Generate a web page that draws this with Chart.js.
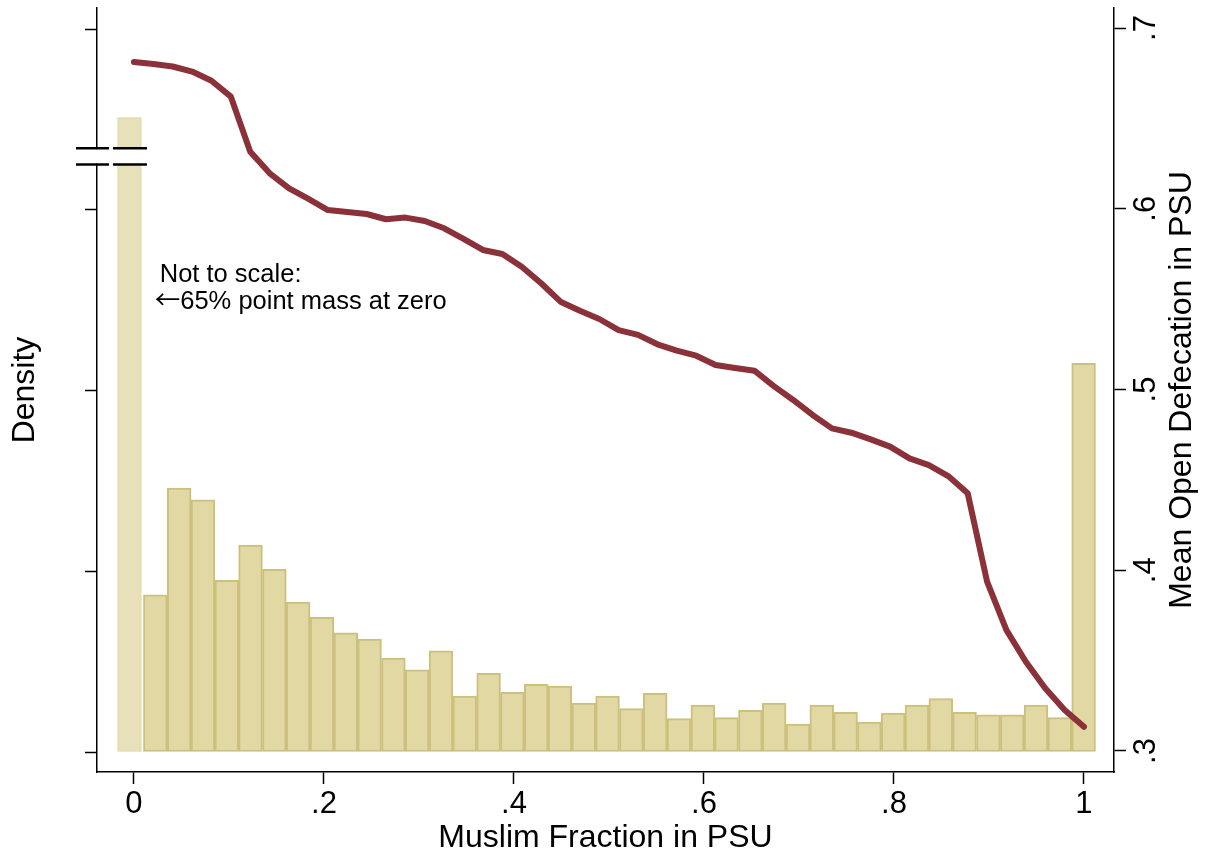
<!DOCTYPE html>
<html><head><meta charset="utf-8">
<script src="https://cdn.jsdelivr.net/npm/chart.js@4.4.1/dist/chart.umd.min.js"></script>
<style>html,body{margin:0;padding:0;background:#fff;}#wrap{width:1205px;height:858px;}</style>
</head><body><div id="wrap"><canvas id="c" width="1205" height="858"></canvas></div>
<script>
// ---- data ----
const xTickValues = [0, 0.2, 0.4, 0.6, 0.8, 1];
const xTickLabels = ['0', '.2', '.4', '.6', '.8', '1'];
const rightTickValues = [0.3, 0.4, 0.5, 0.6, 0.7];
const rightTickLabels = ['.3', '.4', '.5', '.6', '.7'];
const densityTickValues = [0, 2, 4, 6, 8];

const binCenters = [0.0225, 0.0476, 0.0726, 0.0977, 0.1227, 0.1478, 0.1728, 0.1979, 0.2230, 0.2480,
  0.2731, 0.2981, 0.3232, 0.3482, 0.3733, 0.3983, 0.4234, 0.4484, 0.4735, 0.4985,
  0.5236, 0.5487, 0.5737, 0.5988, 0.6238, 0.6489, 0.6739, 0.6990, 0.7240, 0.7491,
  0.7741, 0.7992, 0.8242, 0.8493, 0.8743, 0.8994, 0.9245, 0.9495, 0.9746, 0.9996];
const binDensity = [1.74, 2.92, 2.79, 1.90, 2.29, 2.02, 1.66, 1.49, 1.32, 1.25,
  1.04, 0.91, 1.12, 0.62, 0.87, 0.66, 0.75, 0.73, 0.54, 0.62,
  0.48, 0.65, 0.37, 0.52, 0.38, 0.46, 0.54, 0.31, 0.52, 0.44,
  0.33, 0.43, 0.52, 0.59, 0.44, 0.41, 0.41, 0.52, 0.38, 4.30];
const pointMassX = [-0.0047];
const pointMassDensity = [7.02];

const gridX = [0, 0.0204, 0.0408, 0.0612, 0.0816, 0.1020, 0.1224, 0.1429, 0.1633, 0.1837,
  0.2041, 0.2245, 0.2449, 0.2653, 0.2857, 0.3061, 0.3265, 0.3469, 0.3673, 0.3878,
  0.4082, 0.4286, 0.4490, 0.4694, 0.4898, 0.5102, 0.5306, 0.5510, 0.5714, 0.5918,
  0.6122, 0.6327, 0.6531, 0.6735, 0.6939, 0.7143, 0.7347, 0.7551, 0.7755, 0.7959,
  0.8163, 0.8367, 0.8571, 0.8776, 0.8980, 0.9184, 0.9388, 0.9592, 0.9796, 1];
const meanOpenDef = [0.6812, 0.6801, 0.6787, 0.6759, 0.6708, 0.6620, 0.6316, 0.6196, 0.6113, 0.6054,
  0.5993, 0.5982, 0.5971, 0.5942, 0.5951, 0.5932, 0.5892, 0.5833, 0.5772, 0.5750,
  0.5679, 0.5588, 0.5486, 0.5436, 0.5390, 0.5329, 0.5302, 0.5250, 0.5215, 0.5187,
  0.5136, 0.5119, 0.5104, 0.5019, 0.4942, 0.4859, 0.4785, 0.4761, 0.4724, 0.4684,
  0.4619, 0.4582, 0.4521, 0.4426, 0.3937, 0.3669, 0.3494, 0.3347, 0.3227, 0.3134];

const annotationArrow = '\u2190';
const annotationLines = ['Not to scale:', '65% point mass at zero'];
const annotationAnchor = {x: 0.024, y: 0.5595};      // x data units, right-axis units (first baseline)
const breakLevels = [6.68, 6.50];                     // density units
const breakSegments = [[-0.061, -0.0263], [-0.0221, 0.0137]]; // x data units
const xTitle = 'Muslim Fraction in PSU';
const leftTitle = 'Density';
const rightTitle = 'Mean Open Defecation in PSU';

// ---- styles ----
const FONT = "'Liberation Sans', Arial, Helvetica, sans-serif";
Chart.defaults.font.family = FONT;
Chart.defaults.color = '#000';
const AXIS = '#000';

const overlay = {
  id: 'overlay',
  afterDraw(chart) {
    const {ctx, scales, chartArea} = chart;
    const x = scales.x, yL = scales.yL, yR = scales.yR;
    ctx.save();
    // axis break marks
    const yA = yL.getPixelForValue(breakLevels[0]);
    const yB = yL.getPixelForValue(breakLevels[1]);
    ctx.fillStyle = '#fff';
    breakSegments.forEach(s => {
      const x0 = x.getPixelForValue(s[0]), x1 = x.getPixelForValue(s[1]);
      ctx.fillRect(x0, yA + 1, x1 - x0, yB - yA - 2);
    });
    ctx.strokeStyle = '#000';
    ctx.lineWidth = 2.5;
    breakSegments.forEach(s => {
      const x0 = x.getPixelForValue(s[0]), x1 = x.getPixelForValue(s[1]);
      [yA, yB].forEach(yy => {
        ctx.beginPath(); ctx.moveTo(x0, yy); ctx.lineTo(x1, yy); ctx.stroke();
      });
    });
    // annotation
    ctx.fillStyle = '#000';
    ctx.textAlign = 'left';
    ctx.textBaseline = 'alphabetic';
    const ax = x.getPixelForValue(annotationAnchor.x);
    const ay = yR.getPixelForValue(annotationAnchor.y);
    ctx.font = '25.5px ' + FONT;
    ctx.fillText(annotationLines[0], ax + 3, ay);
    ctx.font = "25.5px 'Noto Sans CJK JP', " + FONT;
    ctx.fillText(annotationArrow, ax - 2, ay + 27.5);
    const aw = ctx.measureText(annotationArrow).width;
    ctx.font = '25.5px ' + FONT;
    ctx.fillText(annotationLines[1], ax - 2 + aw, ay + 27.5);
    // right axis title (reads bottom to top)
    ctx.font = '32px ' + FONT;
    ctx.textAlign = 'center';
    ctx.textBaseline = 'middle';
    ctx.translate(yR.left + 68, (chartArea.top + chartArea.bottom) / 2);
    ctx.rotate(-Math.PI / 2);
    ctx.fillText(rightTitle, 0, 0);
    ctx.restore();
  }
};

function noPad(s) { s.paddingTop = 0; s.paddingBottom = 0; s.paddingLeft = 0; s.paddingRight = 0; }

new Chart(document.getElementById('c'), {
  type: 'bar',
  data: {
    datasets: [
      {
        type: 'line', order: 0, xAxisID: 'x', yAxisID: 'yR',
        data: gridX.map((v, i) => ({x: v, y: meanOpenDef[i]})),
        borderColor: '#8b3139', borderWidth: 6, pointRadius: 0, tension: 0,
        borderCapStyle: 'round', borderJoinStyle: 'round', fill: false
      },
      {
        type: 'bar', order: 1, xAxisID: 'x', yAxisID: 'yL', grouped: false,
        data: binCenters.map((v, i) => ({x: v, y: binDensity[i]})),
        backgroundColor: '#e2d8a4', borderColor: '#cbc17d', borderWidth: 2,
        barPercentage: 1, categoryPercentage: 1, borderSkipped: false
      },
      {
        type: 'bar', order: 2, xAxisID: 'x', yAxisID: 'yL', grouped: false,
        data: pointMassX.map((v, i) => ({x: v, y: pointMassDensity[i]})),
        backgroundColor: '#e8e0b8', borderColor: '#dbd29f', borderWidth: 1,
        barPercentage: 1, categoryPercentage: 1, borderSkipped: false
      }
    ]
  },
  options: {
    responsive: false, animation: false, devicePixelRatio: 1,
    layout: {padding: {top: 8, left: 0, right: 0, bottom: 0}},
    plugins: {legend: {display: false}, tooltip: {enabled: false}},
    scales: {
      x: {
        type: 'linear', position: 'bottom', min: -0.0389, max: 1.0316, offset: false,
        afterBuildTicks: s => { s.ticks = xTickValues.map(v => ({value: v})); },
        afterFit: s => { s.height = 86; noPad(s); },
        grid: {display: true, drawOnChartArea: false, drawTicks: true, tickLength: 12, tickColor: AXIS, tickWidth: 1.5, offset: false},
        border: {display: true, color: AXIS, width: 1.5},
        ticks: {autoSkip: false, maxRotation: 0, minRotation: 0, padding: 2, font: {size: 31}, color: '#000',
                callback: (v, i) => xTickLabels[i]},
        title: {display: true, text: xTitle, font: {size: 32}, color: '#000', padding: {top: 0, bottom: 1}}
      },
      yL: {
        type: 'linear', position: 'left', min: -0.2213, max: 8.2324,
        afterBuildTicks: s => { s.ticks = densityTickValues.map(v => ({value: v})); },
        afterFit: s => { s.width = 97; noPad(s); },
        grid: {display: true, drawOnChartArea: false, drawTicks: true, tickLength: 12, tickColor: AXIS, tickWidth: 1.5},
        border: {display: true, color: AXIS, width: 1.5},
        ticks: {display: false},
        title: {display: true, text: leftTitle, font: {size: 32}, color: '#000', padding: {top: 6, bottom: 0}}
      },
      yR: {
        type: 'linear', position: 'right', min: 0.28838, max: 0.71107,
        afterBuildTicks: s => { s.ticks = rightTickValues.map(v => ({value: v})); },
        afterFit: s => { s.width = 91; noPad(s); },
        grid: {display: true, drawOnChartArea: false, drawTicks: true, tickLength: 12, tickColor: AXIS, tickWidth: 1.5},
        border: {display: true, color: AXIS, width: 1.5},
        ticks: {minRotation: 90, maxRotation: 90, crossAlign: 'center', padding: 7.5, font: {size: 31}, color: '#000',
                callback: (v, i) => rightTickLabels[i]},
        title: {display: false}
      }
    }
  },
  plugins: [overlay]
});
</script>
</body></html>
